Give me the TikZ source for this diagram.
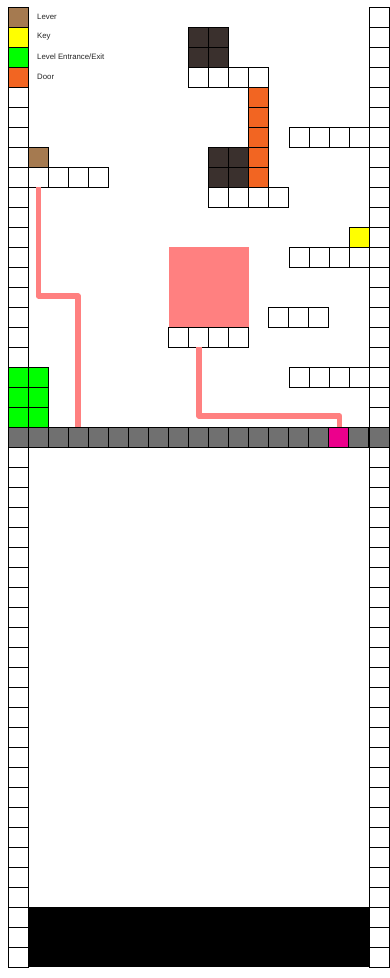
\documentclass[tikz,border=0pt]{standalone}
\usepackage{fontspec}
\setmainfont{Liberation Sans}
\begin{document}
\begin{tikzpicture}[x=1pt,y=-1pt,
  cell/.style={draw=black, line width=0.9pt, minimum size=20pt, inner sep=0pt, outer sep=0pt, fill=white},
  block/.style={draw=none, inner sep=0pt, outer sep=0pt},
  legendtext/.style={anchor=west, inner sep=0pt, font=\fontsize{7.8}{9}\selectfont, text=black!85},
  wire/.style={draw=salmon, line width=5.5pt, line join=round}]
\definecolor{lever}{HTML}{A57A50}
\definecolor{keyy}{HTML}{FFFF00}
\definecolor{entr}{HTML}{00FF00}
\definecolor{door}{HTML}{F26522}
\definecolor{dark}{HTML}{3A302D}
\definecolor{floorg}{HTML}{707070}
\definecolor{plate}{HTML}{EC008C}
\definecolor{salmon}{HTML}{FF8080}
\useasboundingbox (0,0) rectangle (390,978);
\fill[white] (0,0) rectangle (390,978);
% big blocks
\node[block, fill=salmon, minimum width=80pt, minimum height=80pt] (pinkbox) at (208.5,287) {};
\node[block, fill=black, minimum width=341pt, minimum height=60pt] (pit) at (198.5,937) {};
% side columns
\foreach \r in {0,...,47} {
  \node[cell] (c-0-\r) at (18,17+20*\r) {};
  \node[cell] (c-18-\r) at (379.5,17+20*\r) {};
}
% floor
\foreach \c in {0,...,17} \node[cell, fill=floorg] (c-\c-21) at (18+20*\c,437) {};
\node[cell, fill=floorg] (c-18-21) at (379.5,437) {};
\node[cell, fill=plate] (c-16-21) at (338,437) {};
% coloured cells
\foreach \c/\r/\f in {0/0/lever,0/1/keyy,0/2/entr,0/3/door,
  0/18/entr,0/19/entr,0/20/entr,1/18/entr,1/19/entr,1/20/entr,
  1/7/lever,12/4/door,12/5/door,12/6/door,12/7/door,12/8/door,
  9/1/dark,10/1/dark,9/2/dark,10/2/dark,10/7/dark,11/7/dark,10/8/dark,11/8/dark}
  \node[cell, fill=\f] (c-\c-\r) at (18+20*\c,17+20*\r) {};
\node[cell, fill=keyy] (c-17-11) at (359.5,237) {};
% white platforms
\foreach \c/\r in {9/3,10/3,11/3,12/3, 10/9,11/9,12/9,13/9,
  1/8,2/8,3/8,4/8, 13/15,14/15,15/15, 8/16,9/16,10/16,11/16}
  \node[cell] (c-\c-\r) at (18+20*\c,17+20*\r) {};
\foreach \c/\r in {14/6,15/6,16/6,17/6, 14/12,15/12,16/12,17/12, 14/18,15/18,16/18,17/18}
  \node[cell] (c-\c-\r) at (19.5+20*\c,17+20*\r) {};
% legend
\node[legendtext] (t-lever) at (37,17) {Lever};
\node[legendtext] (t-key) at (37,37) {Key};
\node[legendtext] (t-entr) at (37,57) {Level Entrance/Exit};
\node[legendtext] (t-door) at (37,77) {Door};
% wires
\coordinate (bend1) at (38.5,296);
\coordinate (bend2) at (199,416);
\draw[wire] (c-1-8.south -| bend1) -- (bend1) -| (c-3-21.north);
\draw[wire] (c-9-16.south -| bend2) -- (bend2) -| ([xshift=1.5pt]c-16-21.north);
% redraw floor cells over wire ends
\node[cell, fill=floorg] at (78,437) {};
\node[cell, fill=plate] at (338,437) {};
\end{tikzpicture}
\end{document}
